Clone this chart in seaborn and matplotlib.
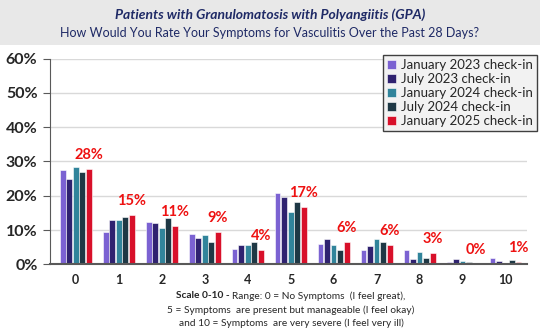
import matplotlib
matplotlib.use("Agg")
import matplotlib.pyplot as plt
import seaborn as sns
import pandas as pd
from matplotlib.ticker import FuncFormatter

categories = ["0", "1", "2", "3", "4", "5", "6", "7", "8", "9", "10"]
series_names = ["January 2023 check-in", "July 2023 check-in", "January 2024 check-in",
                "July 2024 check-in", "January 2025 check-in"]
jan2023 = [27.5, 9.3, 12.3, 8.7, 4.5, 20.7, 5.9, 4.1, 4.1, 0.8, 1.7]
jul2023 = [24.8, 13.0, 12.0, 7.7, 5.7, 19.7, 7.3, 5.2, 1.5, 1.5, 1.0]
jan2024 = [28.3, 13.0, 10.6, 8.5, 5.6, 15.3, 5.7, 7.4, 3.6, 1.0, 0.4]
jul2024 = [27.0, 13.8, 13.4, 6.4, 6.4, 18.2, 4.3, 6.4, 1.7, 0.6, 1.2]
jan2025 = [27.7, 14.5, 11.1, 9.4, 4.1, 16.8, 6.4, 5.7, 3.2, 0.2, 0.7]
labels_2025 = ["28%", "15%", "11%", "9%", "4%", "17%", "6%", "6%", "3%", "0%", "1%"]
colors = ["#7B62D2", "#2F2270", "#31849B", "#1E3845", "#D8102A"]
yticks = [0, 10, 20, 30, 40, 50, 60]

rows = []
for name, vals in zip(series_names, [jan2023, jul2023, jan2024, jul2024, jan2025]):
    for c, v in zip(categories, vals):
        rows.append({"score": c, "series": name, "pct": v})
df = pd.DataFrame(rows)

sns.set_style("white")
plt.rcParams["font.family"] = ["Lato", "DejaVu Sans"]

fig = plt.figure(figsize=(5.4, 3.31), dpi=100)
# title band
fig.patches.append(plt.Rectangle((0, 1 - 45 / 331), 1, 45 / 331, transform=fig.transFigure,
                                 facecolor="#E8E8E8", edgecolor="none", zorder=0))
fig.text(0.5, 1 - 15 / 331, "Patients with Granulomatosis with Polyangiitis (GPA)",
         ha="center", va="center", fontsize=10, fontweight="bold", fontstyle="italic",
         color="#1F2A66")
fig.text(0.5, 1 - 33 / 331, "How Would You Rate Your Symptoms for Vasculitis Over the Past 28 Days?",
         ha="center", va="center", fontsize=9, color="#1F2A66")

ax = fig.add_axes([50 / 540, 1 - 264.3 / 331, 477 / 540, (264.3 - 58.5) / 331])
sns.barplot(data=df, x="score", y="pct", hue="series", order=categories,
            hue_order=series_names, palette=colors, width=0.76, gap=0.12,
            edgecolor="white", linewidth=0.4, saturation=1, ax=ax)

ax.set_ylim(0, 60)
ax.set_xlim(-0.6, 10.5)
ax.set_yticks(yticks)
ax.yaxis.set_major_formatter(FuncFormatter(lambda v, p: f"{int(v)}%"))
ax.grid(axis="y", color="#D9D9D9", linewidth=1)
ax.set_axisbelow(True)
for s in ["top", "right"]:
    ax.spines[s].set_visible(False)
ax.spines["left"].set_color("#595959")
ax.spines["bottom"].set_color("#595959")
ax.spines["bottom"].set_linewidth(1.5)
ax.tick_params(axis="y", length=5, color="#595959", left=True, labelsize=11.5, pad=4)
ax.tick_params(axis="x", length=0, labelsize=9, pad=7)
for t in ax.get_yticklabels() + ax.get_xticklabels():
    t.set_fontweight("bold")
ax.set_xlabel("")
ax.set_ylabel("")

red = ax.containers[4]
for bar, lab in zip(red.patches, labels_2025):
    ax.annotate(lab, (bar.get_x() + bar.get_width() / 2, bar.get_height()),
                xytext=(0, 10), textcoords="offset points", ha="center", va="center",
                fontsize=10.5, fontweight="bold", color="#EE1111")

leg = ax.legend(loc="upper left", bbox_to_anchor=(383 / 540, 1 - 55 / 331),
                bbox_transform=fig.transFigure, frameon=True, fontsize=9.5,
                handlelength=0.7, handleheight=0.7, handletextpad=0.4,
                labelspacing=0.15, borderpad=0.3, fancybox=False, borderaxespad=0)
leg.get_frame().set_facecolor("#F2F2F2")
leg.get_frame().set_edgecolor("#404040")
leg.get_frame().set_linewidth(1)
leg.get_frame().set_alpha(1)

# footnote
fs = 7.3
cx = 291 / 540
renderer = fig.canvas.get_renderer()
t_bold = fig.text(0, 0, "Scale 0-10 - ", fontsize=fs, fontweight="bold", color="#262626",
                  va="center")
t_rest = fig.text(0, 0, "Range: 0 = No Symptoms  (I feel great),", fontsize=fs,
                  color="#262626", va="center")
wb = t_bold.get_window_extent(renderer).width / fig.bbox.width
wr = t_rest.get_window_extent(renderer).width / fig.bbox.width
x0 = cx - (wb + wr) / 2
t_bold.set_position((x0, 1 - 296 / 331))
t_rest.set_position((x0 + wb, 1 - 296 / 331))
fig.text(cx, 1 - 310 / 331, "5 = Symptoms  are present but manageable (I feel okay)",
         ha="center", va="center", fontsize=fs, color="#262626")
fig.text(cx, 1 - 323 / 331, "and 10 = Symptoms  are very severe (I feel very ill)",
         ha="center", va="center", fontsize=fs, color="#262626")

fig.savefig("out.png", dpi=100)
